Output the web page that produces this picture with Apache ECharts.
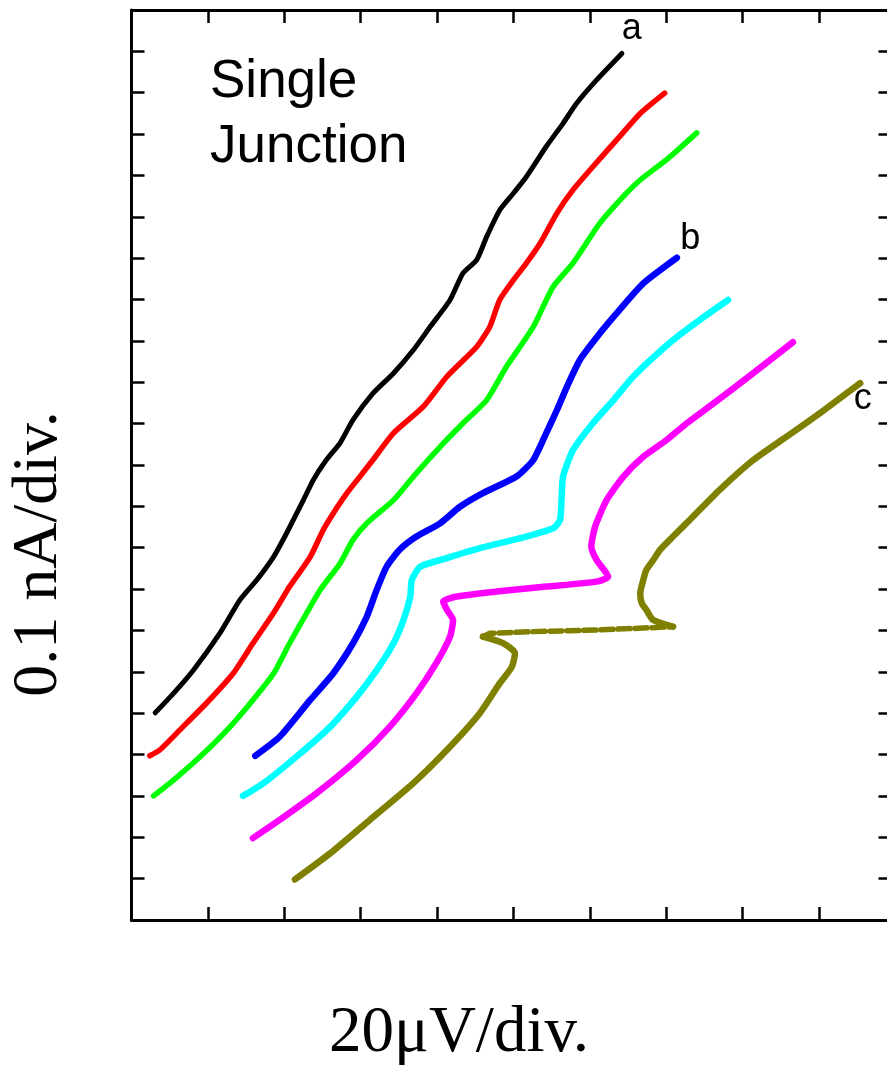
<!DOCTYPE html>
<html>
<head>
<meta charset="utf-8">
<script src="https://cdn.jsdelivr.net/npm/echarts@6/dist/echarts.min.js"></script>
<style>html,body{margin:0;padding:0;background:#fff;overflow:hidden;}#c{width:887px;height:1068px;}</style>
</head>
<body>
<div id="c"></div>
<script>
// Axis scale: 1 division = 20 µV (x), 0.1 nA (y)
const xTitle = '20\u03bcV/div.';
const yTitle = '0.1 nA/div.';
const noteText = 'Single\nJunction';

// Curves [x (div), y (div)]
const curveBlack = [[0.31,5.01],[0.55,5.48],[0.81,6.04],[1.16,6.94],[1.42,7.74],[1.64,8.22],[1.86,8.78],[2.03,9.35],[2.25,10.15],[2.38,10.64],[2.55,11.12],[2.73,11.53],[2.90,12.09],[3.16,12.73],[3.43,13.22],[3.69,13.78],[3.91,14.34],[4.17,14.99],[4.34,15.64],[4.52,15.96],[4.65,16.52],[4.82,17.16],[5.00,17.57],[5.17,17.97],[5.43,18.70],[5.65,19.26],[5.83,19.75],[6.09,20.31],[6.42,20.95]];
const curveRed = [[0.24,3.97],[0.37,4.11],[0.63,4.59],[0.98,5.24],[1.33,5.96],[1.59,6.69],[1.86,7.42],[2.07,8.06],[2.34,8.78],[2.51,9.43],[2.64,9.83],[2.82,10.32],[2.99,10.72],[3.16,11.12],[3.43,11.77],[3.82,12.41],[4.13,13.14],[4.52,13.86],[4.69,14.34],[4.82,14.99],[5.00,15.47],[5.17,15.88],[5.35,16.36],[5.57,17.09],[5.78,17.65],[6.04,18.21],[6.39,18.94],[6.66,19.50],[6.98,19.99]];
const curveGreen = [[0.29,3.00],[0.55,3.38],[0.90,3.95],[1.29,4.67],[1.59,5.32],[1.86,5.96],[2.07,6.69],[2.29,7.41],[2.47,7.98],[2.73,8.62],[2.90,9.19],[3.08,9.59],[3.43,10.15],[3.69,10.72],[4.04,11.44],[4.34,12.01],[4.65,12.57],[4.91,13.38],[5.26,14.34],[5.52,15.31],[5.78,15.88],[6.13,16.84],[6.48,17.57],[6.66,17.89],[7.03,18.42],[7.40,19.03]];
const curveBlue = [[1.62,3.97],[1.94,4.43],[2.34,5.32],[2.64,5.96],[2.90,6.69],[3.08,7.33],[3.21,7.98],[3.34,8.54],[3.51,8.95],[3.73,9.27],[4.04,9.59],[4.30,9.99],[4.60,10.32],[5.04,10.72],[5.26,11.12],[5.43,11.77],[5.57,12.33],[5.70,12.89],[5.87,13.54],[6.13,14.18],[6.39,14.75],[6.70,15.39],[7.14,16.01]];
const curveCyan = [[1.46,3.00],[1.73,3.31],[2.16,3.95],[2.60,4.67],[2.95,5.40],[3.21,6.04],[3.43,6.69],[3.56,7.25],[3.65,7.82],[3.67,8.22],[3.78,8.54],[4.13,8.75],[4.56,8.99],[5.09,9.23],[5.52,9.47],[5.61,9.67],[5.63,10.15],[5.65,10.72],[5.78,11.36],[6.04,12.01],[6.31,12.57],[6.57,13.14],[7.09,14.02],[7.44,14.51],[7.81,14.99]];
const curveMagenta = [[1.59,1.98],[1.94,2.42],[2.42,3.06],[2.95,3.87],[3.38,4.67],[3.73,5.48],[3.99,6.21],[4.17,6.85],[4.21,7.25],[4.13,7.50],[4.08,7.70],[4.26,7.82],[4.78,7.94],[5.43,8.06],[6.09,8.18],[6.24,8.30],[6.09,8.70],[6.02,9.03],[6.07,9.51],[6.22,10.15],[6.44,10.72],[6.70,11.20],[7.01,11.61],[7.27,12.01],[7.62,12.49],[8.14,13.22],[8.66,13.97]];
const curveOliveLow = [[2.14,0.98],[2.60,1.61],[3.12,2.42],[3.69,3.31],[4.17,4.19],[4.56,5.00],[4.82,5.72],[4.98,6.12],[5.02,6.45],[4.87,6.69],[4.60,6.85]];
const curveOliveJump = [[4.60,6.85],[4.69,6.93],[5.22,6.97],[6.09,7.01],[7.09,7.09]];
const curveOliveHigh = [[7.09,7.09],[6.83,7.25],[6.74,7.50],[6.68,7.66],[6.66,7.90],[6.70,8.22],[6.74,8.46],[6.83,8.70],[6.92,8.95],[7.09,9.27],[7.35,9.75],[7.70,10.40],[8.14,11.12],[8.58,11.69],[9.01,12.25],[9.54,12.98]];

const endLabels = [
  {text:'a', curve: curveBlack, dx: 0, dy: -24},
  {text:'b', curve: curveBlue, dx: 3.5, dy: -19},
  {text:'c', curve: curveOliveHigh, dx: -6.5, dy: 16}
];

const chart = echarts.init(document.getElementById('c'), null, {renderer:'canvas'});

function axisCommon(extra, showLine){
  return Object.assign({
    type:'value',
    axisLine:{show:showLine !== false, onZero:false, lineStyle:{color:'#000', width:3}},
    axisTick:{show:true, inside:true, length:13, lineStyle:{color:'#000', width:2.5}},
    axisLabel:{show:false},
    splitLine:{show:false}
  }, extra);
}

function lineSeries(data, color, width, dash, smooth){
  return {
    type:'line', data: data, showSymbol:false, symbol:'none',
    smooth: smooth === undefined ? 0.2 : smooth,
    clip:false, animation:false, silent:true,
    lineStyle:{color: color, width: width, cap:'round', join:'round', type: dash || 'solid'}
  };
}

chart.setOption({
  animation:false,
  backgroundColor:'#fff',
  grid:{left:131.5, top:10, width:760, height:910, containLabel:false, outerBoundsMode:'none'},
  xAxis:[
    axisCommon({position:'bottom', min:0, max:9.95, interval:1}),
    axisCommon({position:'top', min:0, max:9.95, interval:1})
  ],
  yAxis:[
    axisCommon({position:'left', min:0, max:22, interval:1}),
    axisCommon({position:'right', min:0, max:22, interval:1}, false)
  ],
  series:[
    lineSeries(curveBlack, '#000000', 5),
    lineSeries(curveRed, '#ff0000', 5.5),
    lineSeries(curveGreen, '#00ff00', 5.5),
    lineSeries(curveBlue, '#0000ff', 6.5),
    lineSeries(curveCyan, '#00ffff', 6.5),
    lineSeries(curveMagenta, '#ff00ff', 6.5),
    lineSeries(curveOliveLow, '#808000', 6.5),
    lineSeries(curveOliveJump, '#808000', 5.5, [12,5], false),
    lineSeries(curveOliveHigh, '#808000', 6.5)
  ]
});

const graphics = [
  {type:'text', left:210, top:50, silent:true,
   style:{text:noteText, font:'53px "Liberation Sans", Arial, sans-serif', lineHeight:65, fill:'#000'}},
  {type:'text', x:39, y:554, rotation:Math.PI/2, silent:true,
   style:{text:yTitle, font:'64px "Liberation Serif", "Times New Roman", serif', fill:'#000', textAlign:'center', textVerticalAlign:'middle'}},
  {type:'text', x:459, y:1034, silent:true,
   style:{text:xTitle, font:'65px "Liberation Serif", "Times New Roman", serif', fill:'#000', textAlign:'center', textVerticalAlign:'middle'}}
];
endLabels.forEach(function(l){
  const last = l.curve[l.curve.length-1];
  const p = chart.convertToPixel({gridIndex:0}, last);
  graphics.push({type:'text', x:p[0]+l.dx, y:p[1]+l.dy, silent:true,
    style:{text:l.text, font:'36px "Liberation Sans", Arial, sans-serif', fill:'#000', textAlign:'left', textVerticalAlign:'middle'}});
});
chart.setOption({graphic:graphics});
</script>
</body>
</html>
